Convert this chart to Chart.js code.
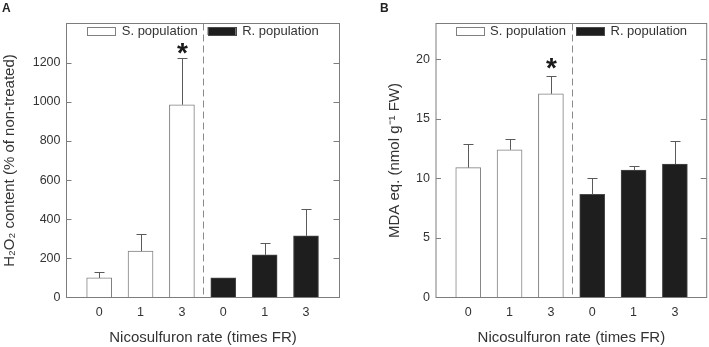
<!DOCTYPE html>
<html><head><meta charset="utf-8">
<script src="https://cdn.jsdelivr.net/npm/chart.js@4"></script>
<style>
body{margin:0;background:#fff;width:709px;height:347px;position:relative;overflow:hidden}
.panel{position:absolute;top:0;height:347px}
#pa{left:0;width:355px}
#pb{left:355px;width:354px}
.tag{position:absolute;top:1px;font:bold 12px "Liberation Sans",Arial,sans-serif;color:#222}
</style></head><body>
<div class="panel" id="pa"><canvas id="chartA"></canvas></div>
<div class="panel" id="pb"><canvas id="chartB"></canvas></div>
<div class="tag" style="left:2px">A</div>
<div class="tag" style="left:380px">B</div>
<script>
/* two-panel bar chart: H2O2 and MDA in S and R populations */
const rateLabels=['0','1','3','0','1','3'];
const seriesNames=['S. population','R. population'];
// panel A - H2O2 content (% of non-treated)
const h2o2S=[100,237,985];
const h2o2SErr=[30,86,240];
const h2o2R=[100,218,315];
const h2o2RErr=[0,63,139];
const h2o2Sig=[false,false,true];
const h2o2Ticks=[0,200,400,600,800,1000,1200];
// panel B - MDA eq.
const mdaS=[10.9,12.4,17.1];
const mdaSErr=[1.95,0.92,1.5];
const mdaR=[8.65,10.7,11.2];
const mdaRErr=[1.35,0.36,1.9];
const mdaSig=[false,false,true];
const mdaTicks=[0,5,10,15,20];

const FONT='"Liberation Sans", Arial, sans-serif';
Chart.defaults.font.family=FONT;
Chart.defaults.color='#333';

const decor={id:'decor',
  afterDraw(c,args,o){
    const ctx=c.ctx,a=c.chartArea,x=c.scales.x,y=c.scales.y;
    ctx.save();
    // frame + inward ticks
    ctx.strokeStyle='#7d7d7d';ctx.lineWidth=1;
    ctx.strokeRect(a.left,a.top,a.right-a.left,a.bottom-a.top);
    ctx.beginPath();
    y.ticks.forEach(function(t){if(t.value===0)return;const py=Math.round(y.getPixelForValue(t.value))+0.5;
      ctx.moveTo(a.left,py);ctx.lineTo(a.left+5,py);ctx.moveTo(a.right,py);ctx.lineTo(a.right-6,py);});
    ctx.stroke();
    // dashed divider between populations
    const dx=Math.round(x.getPixelForValue(2.5))+0.5;
    ctx.strokeStyle='#8a8a8a';ctx.setLineDash([7,4]);
    ctx.beginPath();ctx.moveTo(dx,a.top);ctx.lineTo(dx,a.bottom);ctx.stroke();
    ctx.setLineDash([]);
    // error bars (upper only)
    ctx.strokeStyle='#5a5a5a';
    c.data.datasets.forEach(function(ds){
      ds.data.forEach(function(p,i){const e=ds.errors[i];if(!e)return;
        const px=Math.round(x.getPixelForValue(p.x))+0.5;
        const y0=y.getPixelForValue(p.y),y1=Math.round(y.getPixelForValue(p.y+e))+0.5;
        ctx.beginPath();ctx.moveTo(px,y0);ctx.lineTo(px,y1);ctx.moveTo(px-5,y1);ctx.lineTo(px+5,y1);ctx.stroke();
        if(ds.sig&&ds.sig[i]){
          ctx.fillStyle='#1a1a1a';ctx.font='bold 28px '+FONT;ctx.textAlign='center';ctx.textBaseline='alphabetic';
          ctx.fillText('*',px,y1-o.starGap+10);
        }
      });
    });
    // legend inside the top of the plot
    ctx.font='13px '+FONT;ctx.textBaseline='middle';ctx.textAlign='left';
    const ws=c.data.datasets.map(function(ds){return 28+6.5+ctx.measureText(ds.label).width;});
    let lx=(a.left+a.right)/2-(ws[0]+ws[1]+10)/2;const ly=a.top+7.5;
    c.data.datasets.forEach(function(ds,j){
      ctx.fillStyle=ds.backgroundColor;ctx.fillRect(lx,ly-4,28,8);
      ctx.strokeStyle=ds.borderColor;ctx.strokeRect(Math.round(lx)+0.5,Math.round(ly-4)+0.5,28,8);
      ctx.fillStyle='#333';ctx.fillText(ds.label,lx+34.5,ly+0.5);
      lx+=ws[j]+10;
    });
    ctx.restore();
  }
};

function makeChart(id,p){
  return new Chart(document.getElementById(id),{
    type:'bar',
    data:{datasets:[
      {label:seriesNames[0],data:p.s.map(function(v,i){return{x:i,y:v};}),errors:p.sErr,sig:p.sig,
        backgroundColor:'#ffffff',borderColor:'#808080',borderWidth:1,barThickness:25},
      {label:seriesNames[1],data:p.r.map(function(v,i){return{x:i+3,y:v};}),errors:p.rErr,
        backgroundColor:'#1e1e1e',borderColor:'#4a4a4a',borderWidth:1,barThickness:25}
    ]},
    options:{responsive:true,maintainAspectRatio:false,animation:false,grouped:false,
      layout:{padding:{top:23.5,right:p.padRight,left:0,bottom:0}},
      plugins:{legend:{display:false},tooltip:{enabled:false},decor:{starGap:p.starGap}},
      scales:{
        x:{type:'linear',offset:false,min:p.xMin,max:p.xMax,grid:{display:false,drawTicks:false},border:{display:false},
          afterBuildTicks:function(s){s.ticks=rateLabels.map(function(l,i){return{value:i};});},
          afterFit:function(s){s.height=49.5;},
          ticks:{color:'#333',font:{size:12.5},padding:8,autoSkip:false,maxRotation:0,
            callback:function(v,i){return rateLabels[i];}},
          title:{display:true,text:'Nicosulfuron rate (times FR)',color:'#333',font:{size:15},padding:{top:0,bottom:0}}},
        y:{min:0,max:p.yMax,grid:{display:false,drawTicks:false},border:{display:false},
          afterBuildTicks:function(s){s.ticks=p.ticks.map(function(v){return{value:v};});},
          afterFit:function(s){s.width=p.axisW;},
          ticks:{color:'#333',font:{size:12.5},padding:6,callback:function(v){return String(v);}},
          title:{display:true,text:p.yTitle,color:'#333',font:{size:15},padding:{top:p.titlePad,bottom:0}}}
      }
    },
    plugins:[decor]
  });
}

makeChart('chartA',{s:h2o2S,sErr:h2o2SErr,r:h2o2R,rErr:h2o2RErr,sig:h2o2Sig,ticks:h2o2Ticks,
  yMax:1400,xMin:-0.79,xMax:5.81,padRight:15.5,axisW:66.5,titlePad:1,starGap:7,
  yTitle:'H₂O₂ content (% of non-treated)'});
makeChart('chartB',{s:mdaS,sErr:mdaSErr,r:mdaR,rErr:mdaRErr,sig:mdaSig,ticks:mdaTicks,
  yMax:23,xMin:-0.78,xMax:5.77,padRight:2.3,axisW:81,titlePad:31,starGap:10,
  yTitle:'MDA eq. (nmol g⁻¹ FW)'});
</script>
</body></html>
